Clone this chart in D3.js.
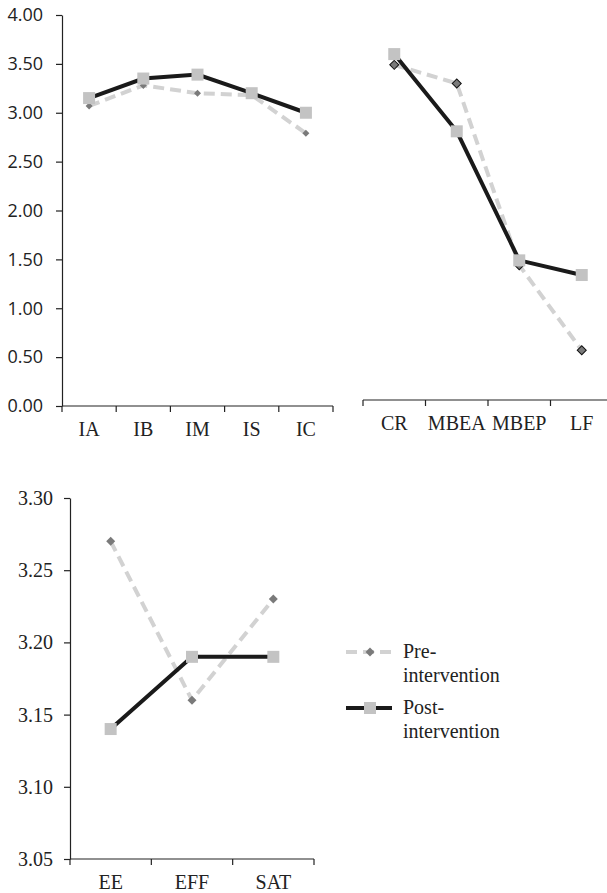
<!DOCTYPE html>
<html lang="en">
<head>
<meta charset="UTF-8">
<title>Pre / post intervention</title>
<script src="https://d3js.org/d3.v7.min.js"></script>
<style>
  body { margin: 0; background: #fff; }
  svg { display: block; }
</style>
</head>
<body>
<svg id="chart" width="607" height="893"></svg>
<script>
// panel 1 - transformational
const catsA = ['IA', 'IB', 'IM', 'IS', 'IC'];
const preA = [3.07, 3.28, 3.20, 3.18, 2.79];
const postA = [3.15, 3.35, 3.39, 3.20, 3.00];
const ticksA = [0, 0.5, 1, 1.5, 2, 2.5, 3, 3.5, 4];

// panel 2 - transactional / laissez-faire
const catsB = ['CR', 'MBEA', 'MBEP', 'LF'];
const preB = [3.49, 3.30, 1.44, 0.57];
const postB = [3.60, 2.81, 1.49, 1.34];

// panel 3 - outcomes
const catsC = ['EE', 'EFF', 'SAT'];
const preC = [3.27, 3.16, 3.23];
const postC = [3.14, 3.19, 3.19];
const ticksC = [3.05, 3.10, 3.15, 3.20, 3.25, 3.30];

const seriesNames = [['Pre-', 'intervention'], ['Post-', 'intervention']];

const SANS = "'Open Sans', 'Liberation Sans', sans-serif";
const SERIF = "'Liberation Serif', 'Times New Roman', serif";

const svg = d3.select('#chart');
const preColor = '#d2d2d2', postColor = '#1a1a1a';
const markPre = '#7a7a7a', markPost = '#c3c3c3';

function panel(opt) {
  const g = svg.append('g');
  const x = d3.scaleBand().domain(opt.cats).range(opt.xr).padding(0);
  const y = d3.scaleLinear().domain(opt.yd).range(opt.yr);
  const cx = d => x(d) + x.bandwidth() / 2;

  // x axis line, ticks at the band edges
  g.append('line')
    .attr('x1', opt.xr[0]).attr('x2', opt.xr[1])
    .attr('y1', opt.axisY).attr('y2', opt.axisY)
    .attr('stroke', '#222').attr('stroke-width', 1.2);
  const edges = opt.cats.map(d => x(d)).concat([opt.xr[1]]);
  g.selectAll('.xt').data(edges).enter().append('line')
    .attr('x1', d => d).attr('x2', d => d)
    .attr('y1', opt.axisY).attr('y2', opt.axisY + 6)
    .attr('stroke', '#222').attr('stroke-width', 1.2);
  g.selectAll('.xl').data(opt.cats).enter().append('text')
    .style('font-family', SERIF).style('font-size', '20px')
    .attr('x', d => cx(d)).attr('y', opt.axisY + 30)
    .attr('text-anchor', 'middle').attr('fill', '#222')
    .text(d => d);

  if (opt.yticks) {
    const ax = g.append('g')
      .attr('transform', `translate(${opt.xr[0]},0)`)
      .call(d3.axisLeft(y).tickValues(opt.yticks).tickSize(6).tickSizeOuter(0)
        .tickPadding(opt.tickPad).tickFormat(d3.format('.2f')));
    ax.select('.domain').attr('stroke', '#222').attr('stroke-width', 1.2);
    ax.selectAll('.tick line').attr('stroke', '#222').attr('stroke-width', 1.2);
    ax.selectAll('.tick text')
      .style('font-family', opt.tickFont).style('font-size', opt.tickSize + 'px')
      .attr('fill', '#222');
  }

  const line = d3.line().x(d => cx(d[0])).y(d => y(d[1]));
  const preData = opt.cats.map((c, i) => [c, opt.pre[i]]);
  const postData = opt.cats.map((c, i) => [c, opt.post[i]]);

  g.append('path').datum(preData).attr('d', line)
    .attr('fill', 'none').attr('stroke', preColor)
    .attr('stroke-width', 4).attr('stroke-dasharray', '11,6');
  g.selectAll('.pm').data(preData).enter().append('path')
    .attr('d', d3.symbol(d3.symbolSquare, opt.dia * opt.dia * 2)())
    .attr('transform', d => `translate(${cx(d[0])},${y(d[1])}) rotate(45)`)
    .attr('fill', markPre)
    .attr('stroke', opt.diaStroke ? '#111' : 'none').attr('stroke-width', 1);

  g.append('path').datum(postData).attr('d', line)
    .attr('fill', 'none').attr('stroke', postColor).attr('stroke-width', 4);
  g.selectAll('.qm').data(postData).enter().append('rect')
    .attr('x', d => cx(d[0]) - opt.sq / 2).attr('y', d => y(d[1]) - opt.sq / 2)
    .attr('width', opt.sq).attr('height', opt.sq)
    .attr('fill', markPost);
}

panel({ cats: catsA, pre: preA, post: postA, xr: [62, 333], yd: [0, 4], yr: [406, 15],
  axisY: 406, yticks: ticksA, tickPad: 13, tickFont: SANS, tickSize: 18, dia: 3.5, diaStroke: false, sq: 12 });

panel({ cats: catsB, pre: preB, post: postB, xr: [363, 613], yd: [0, 4], yr: [406, 15],
  axisY: 400, yticks: null, dia: 4.5, diaStroke: true, sq: 12 });

panel({ cats: catsC, pre: preC, post: postC, xr: [70, 314], yd: [3.05, 3.30], yr: [859, 498],
  axisY: 859, yticks: ticksC, tickPad: 11, tickFont: SERIF, tickSize: 20, dia: 4.5, diaStroke: false, sq: 12 });

// legend
const leg = svg.append('g');
const legY = [652, 708];
seriesNames.forEach((nm, i) => {
  const yy = legY[i];
  leg.append('line').attr('x1', 346).attr('x2', 392).attr('y1', yy).attr('y2', yy)
    .attr('stroke', i === 0 ? preColor : postColor).attr('stroke-width', 4)
    .attr('stroke-dasharray', i === 0 ? '11,6' : null);
  if (i === 0) {
    leg.append('path').attr('d', d3.symbol(d3.symbolSquare, 4.5 * 4.5 * 2)())
      .attr('transform', `translate(370,${yy}) rotate(45)`).attr('fill', markPre);
  } else {
    leg.append('rect').attr('x', 364).attr('y', yy - 6).attr('width', 12).attr('height', 12)
      .attr('fill', markPost);
  }
  nm.forEach((t, j) => {
    leg.append('text')
      .style('font-family', SERIF).style('font-size', '20px')
      .attr('x', 403).attr('y', yy + 6 + j * 24)
      .attr('fill', '#222').text(t);
  });
});
</script>
</body>
</html>
